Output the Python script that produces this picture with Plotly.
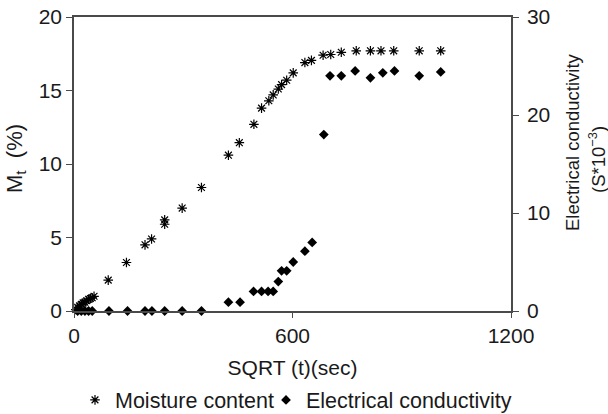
import plotly.graph_objects as go

# Moisture content (%) vs SQRT(t) (sec)
mc_x = [5, 10, 15, 20, 25, 30, 35, 40, 45, 50, 55,
        94, 144, 195, 213, 249, 249, 297, 350, 424, 454, 494, 515, 535, 547,
        561, 570, 584, 602, 634, 652, 684, 705, 734, 775, 814, 843, 878, 948, 1007]
mc_y = [0.1, 0.25, 0.35, 0.45, 0.55, 0.6, 0.7, 0.8, 0.85, 0.9, 1.0,
        2.1, 3.3, 4.5, 4.9, 5.9, 6.2, 7.0, 8.4, 10.6, 11.45, 12.7, 13.8, 14.3, 14.7,
        15.1, 15.4, 15.7, 16.2, 16.9, 17.05, 17.4, 17.45, 17.6, 17.7, 17.7, 17.7, 17.7, 17.7, 17.7]

# Electrical conductivity (S*10^-3)
ec_x = [10, 20, 30, 40, 50, 96, 147, 195, 214, 249, 297, 350,
        424, 456, 493, 515, 533, 547, 561, 570, 584, 602, 634, 654,
        686, 703, 734, 772, 814, 848, 880, 948, 1007]
ec_y = [0, 0, 0, 0, 0, 0, 0, 0, 0, 0, 0, 0,
        0.9, 0.9, 2.0, 2.0, 2.0, 2.0, 3.0, 4.1, 4.1, 5.0, 6.1, 7.0,
        18.0, 24.0, 24.0, 24.5, 23.8, 24.3, 24.5, 24.0, 24.4]

x_ticks = [0, 600, 1200]
y1_ticks = [0, 5, 10, 15, 20]
y2_ticks = [0, 10, 20, 30]

FONT = "Liberation Sans, Arial, sans-serif"
AX = "#4a4a4a"
TXT = "#1a1a1a"

fig = go.Figure()
fig.add_trace(go.Scatter(
    x=mc_x, y=mc_y, mode="markers", name="Moisture content",
    marker=dict(symbol="asterisk-open", size=8, color="black",
                line=dict(color="black", width=1.2)),
    yaxis="y", cliponaxis=False, legend="legend"))
fig.add_trace(go.Scatter(
    x=ec_x, y=ec_y, mode="markers", name="Electrical conductivity",
    marker=dict(symbol="diamond", size=7.5, color="black"),
    yaxis="y2", cliponaxis=False, legend="legend2"))

leg_common = dict(orientation="h", xref="container", yref="container",
                  xanchor="left", y=0.034, yanchor="middle",
                  font=dict(size=21.5), itemwidth=30, bgcolor="rgba(0,0,0,0)")

fig.update_layout(
    width=608, height=414,
    margin=dict(l=74, r=97, t=17, b=103, autoexpand=False),
    paper_bgcolor="white", plot_bgcolor="white",
    font=dict(family=FONT, size=21, color=TXT),
    showlegend=True,
    legend=dict(x=75 / 608, **leg_common),
    legend2=dict(x=266 / 608, **leg_common),
    xaxis=dict(range=[0, 1200], tickvals=x_ticks, showgrid=False, zeroline=False,
               showline=True, linecolor=AX, linewidth=1.5, mirror=True,
               ticks="outside", ticklen=5, tickcolor=AX, tickfont=dict(size=21),
               title=dict(text="SQRT (t)(sec)", standoff=36, font=dict(size=21))),
    yaxis=dict(range=[0, 20], tickvals=y1_ticks, showgrid=False, zeroline=False,
               showline=True, linecolor=AX, linewidth=1.5,
               ticks="outside", ticklen=6, tickcolor=AX, tickfont=dict(size=21)),
    yaxis2=dict(range=[0, 30], tickvals=y2_ticks, overlaying="y", side="right",
                showgrid=False, zeroline=False, showline=True, linecolor=AX, linewidth=1.5,
                ticks="outside", ticklen=6, tickcolor=AX, tickfont=dict(size=21),
                ticklabelstandoff=4),
    yaxis3=dict(range=[0, 30], tickvals=y2_ticks, overlaying="y", side="right",
                showgrid=False, zeroline=False, showline=False,
                ticks="inside", ticklen=6, tickcolor=AX, showticklabels=False),
    annotations=[
        dict(text="M<sub>t</sub>\u00a0\u00a0(%)", xref="paper", yref="paper",
             x=-0.133, y=0.52, textangle=-90, showarrow=False,
             xanchor="center", yanchor="middle", font=dict(size=22, color=TXT)),
        dict(text="Electrical conductivity", xref="paper", yref="paper",
             x=1.142, y=0.575, textangle=-90, showarrow=False,
             xanchor="center", yanchor="middle", font=dict(size=18.5, color=TXT)),
        dict(text="(S*10<sup>\u22123</sup>)", xref="paper", yref="paper",
             x=1.197, y=0.514, textangle=-90, showarrow=False,
             xanchor="center", yanchor="middle", font=dict(size=18.5, color=TXT)),
    ],
)

fig.write_html("out.html")
